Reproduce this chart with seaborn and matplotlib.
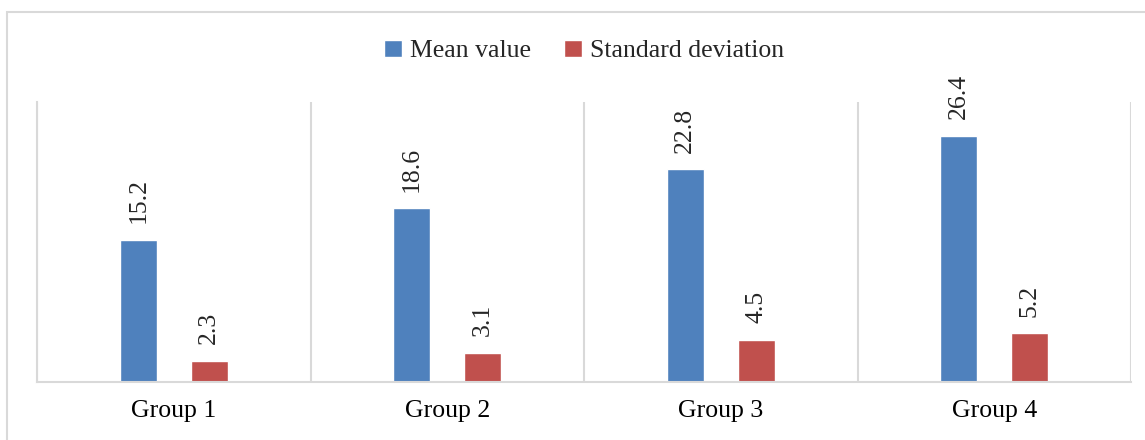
import pandas as pd
import matplotlib.pyplot as plt
import seaborn as sns
from matplotlib.patches import Rectangle

groups = ["Group 1", "Group 2", "Group 3", "Group 4"]
mean_value = [15.2, 18.6, 22.8, 26.4]
std_dev = [2.3, 3.1, 4.5, 5.2]
series = ["Mean value", "Standard deviation"]

df = pd.DataFrame({
    "group": groups * 2,
    "series": [series[0]] * 4 + [series[1]] * 4,
    "value": mean_value + std_dev,
})

sns.set_style("white")
plt.rcParams["font.family"] = ["Liberation Serif", "DejaVu Serif"]
fs = 18.5

fig = plt.figure(figsize=(11.45, 4.4), dpi=100)
ax = fig.add_axes([37 / 1145, 58 / 440, (1131 - 37) / 1145, (382 - 102) / 440])

sns.barplot(data=df, x="group", y="value", hue="series",
            palette=["#4F81BD", "#C0504D"], width=0.52, gap=0.48,
            saturation=1, ax=ax)

ax.set_ylim(0, 30)
ax.set_xlim(-0.5, 3.5)
ax.set_xlabel("")
ax.set_ylabel("")
ax.set_yticks([])
ax.tick_params(axis="x", length=0, labelsize=fs, pad=13, colors="#000000")

for x in [-0.5, 0.5, 1.5, 2.5, 3.5]:
    ax.axvline(x, color="#d9d9d9", lw=1.5, zorder=0)

for s in ["top", "right"]:
    ax.spines[s].set_visible(False)
for s in ["left", "bottom"]:
    ax.spines[s].set_color("#d9d9d9")
    ax.spines[s].set_linewidth(1.5)

for cont in ax.containers:
    for bar in cont:
        h = bar.get_height()
        ax.annotate(f"{h:.1f}", (bar.get_x() + bar.get_width() / 2, h),
                    xytext=(0, 12), textcoords="offset points",
                    rotation=90, ha="center", va="bottom", fontsize=fs)

handles, labels = ax.get_legend_handles_labels()
ax.get_legend().remove()
fig.legend(handles, labels, loc="center", bbox_to_anchor=(0.51, 1 - 51 / 440),
           ncol=2, frameon=False, fontsize=fs, handlelength=0.7, handleheight=0.7,
           handletextpad=0.3, columnspacing=1.3)

fig.patches.append(Rectangle((7 / 1145, -0.1), 1.1, 1.1 - 12 / 440,
                             transform=fig.transFigure, fill=False,
                             edgecolor="#d9d9d9", lw=1.5))

fig.savefig("out.png", dpi=100)
